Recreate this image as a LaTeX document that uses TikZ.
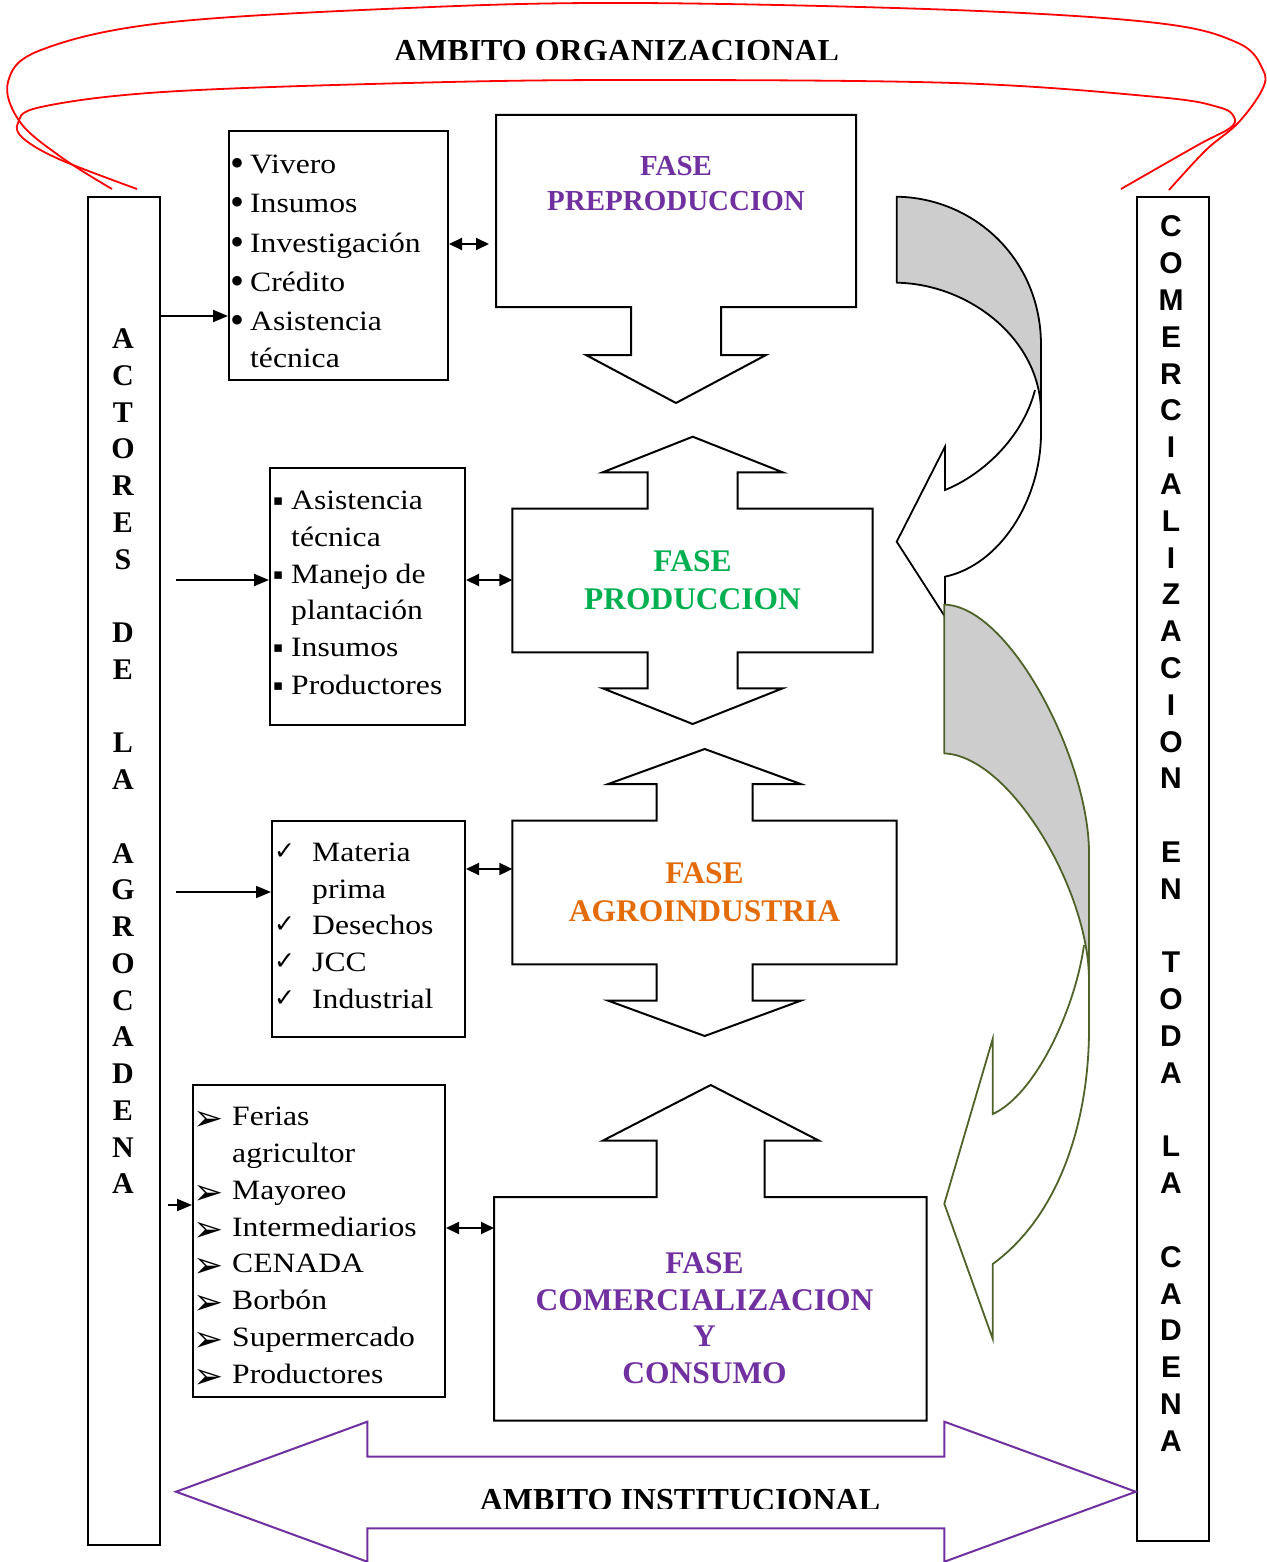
\documentclass[tikz,border=0pt]{standalone}
\usepackage{fontspec}
\setmainfont{Liberation Serif}
\newfontfamily\itemfont[FakeStretch=1.13]{Liberation Serif}
\newfontfamily\symfont{DejaVu Sans}
\newfontfamily\arialfont{Liberation Sans}
\usetikzlibrary{arrows.meta}
\definecolor{fpurple}{RGB}{112,48,160}
\definecolor{fgreen}{RGB}{0,176,80}
\definecolor{forange}{RGB}{227,108,9}
\definecolor{folive}{RGB}{79,98,40}
\definecolor{fshade}{RGB}{205,205,205}
\tikzset{
  boxnode/.style={draw, line width=2pt, inner sep=0pt},
  phase/.style={draw, line width=2pt, line join=miter},
  itm/.style={anchor=base west, inner sep=0pt, font=\itemfont\fontsize{28}{34}\selectfont},
  bul/.style={anchor=base west, inner sep=0pt, font=\fontsize{40}{40}\selectfont},
  sym/.style={anchor=base west, inner sep=0pt, font=\symfont\fontsize{#1}{#1}\selectfont},
  ttl/.style={anchor=base, inner sep=0pt, font=\bfseries\fontsize{31.5}{36}\selectfont},
  ttlsmall/.style={anchor=base, inner sep=0pt, font=\bfseries\fontsize{29}{34}\selectfont},
  amb/.style={anchor=base, inner sep=0pt, font=\bfseries\fontsize{32}{36}\selectfont},
  vl/.style={anchor=base, inner sep=0pt, font=\bfseries\fontsize{30}{36}\selectfont},
  vr/.style={anchor=base, inner sep=0pt, font=\arialfont\bfseries\fontsize{30}{36}\selectfont},
  sarr/.style={line width=2pt, -{Triangle[length=15pt,width=12pt]}},
  darr/.style={line width=2pt, {Triangle[length=13pt,width=12pt]}-{Triangle[length=13pt,width=12pt]}},
  redloop/.style={draw=red, line width=1.8pt},
  grayback/.style={fill=fshade, line width=1.8pt, line join=round},
  front/.style={line width=1.8pt, line join=miter},
}
\begin{document}
\begin{tikzpicture}[x=1pt,y=-1pt]
\useasboundingbox (0,0) rectangle (1266,1562);

% ---------- red loops (ambito organizacional)
\draw[redloop] plot[smooth, tension=0.6] coordinates {(112,189) (61,157) (20,122) (8,82) (41,50) (163,23) (408,8) (633,3) (954,10) (1157,23) (1238,43) (1263,70) (1262,90) (1238,123) (1206,150) (1169,190)};
\draw[redloop] plot[smooth, tension=0.6] coordinates {(137,189) (61,160) (24,139) (18,123) (41,107) (163,92) (408,83) (630,80) (954,83) (1157,97) (1218,107) (1234,117) (1230,128) (1198,145) (1121,189)};
\begin{scope}
  \clip (300,20) rectangle (950,59.5);
  \node[amb] (ambOrg) at (616.5,61.5) {AMBITO ORGANIZACIONAL};
\end{scope}

% ---------- side frames
\node[boxnode, minimum width=72, minimum height=1348] (leftframe) at (124,871) {};
\node[boxnode, minimum width=72, minimum height=1344] (rightframe) at (1173,869) {};
\foreach \c/\k in {A/0,C/1,T/2,O/3,R/4,E/5,S/6,D/8,E/9,L/11,A/12,A/14,G/15,R/16,O/17,C/18,A/19,D/20,E/21,N/22,A/23}
  \node[vl] (al\k) at (123,{348.5+36.75*\k}) {\c};
\foreach \c/\k in {C/0,O/1,M/2,E/3,R/4,C/5,I/6,A/7,L/8,I/9,Z/10,A/11,C/12,I/13,O/14,N/15,E/17,N/18,T/20,O/21,D/22,A/23,L/25,A/26,C/28,A/29,D/30,E/31,N/32,A/33}
  \node[vr] (ar\k) at (1171,{236.8+36.8*\k}) {\c};

% ---------- phase shapes
\draw[phase] (496,115) -- (856,115) -- (856,307) -- (721,307) -- (721,355) -- (766,355) -- (676,403) -- (586,355) -- (631,355) -- (631,307) -- (496,307) -- cycle;
\draw[phase] (692.7,436.7) -- (782.7,472.3) -- (737.7,472.3) -- (737.7,508.7) -- (872.7,508.7) -- (872.7,652.3) -- (737.7,652.3) -- (737.7,688.3) -- (782.7,688.3) -- (692.7,724) -- (602.7,688.3) -- (647.7,688.3) -- (647.7,652.3) -- (512.3,652.3) -- (512.3,508.7) -- (647.7,508.7) -- (647.7,472.3) -- (602.7,472.3) -- cycle;
\draw[phase] (704.7,749) -- (800.7,784) -- (752.7,784) -- (752.7,820.7) -- (896.7,820.7) -- (896.7,964.3) -- (752.7,964.3) -- (752.7,1000.7) -- (800.7,1000.7) -- (704.7,1036) -- (608.3,1000.7) -- (656.7,1000.7) -- (656.7,964.3) -- (512.3,964.3) -- (512.3,820.7) -- (656.7,820.7) -- (656.7,784) -- (608.3,784) -- cycle;
\draw[phase] (710.7,1085) -- (819,1140.7) -- (764.7,1140.7) -- (764.7,1197) -- (926.7,1197) -- (926.7,1420.7) -- (494,1420.7) -- (494,1197) -- (656.7,1197) -- (656.7,1140.7) -- (602.7,1140.7) -- cycle;

\node[ttlsmall, text=fpurple] (p1a) at (676,176) {FASE};
\node[ttlsmall, text=fpurple] (p1b) at (676,211) {PREPRODUCCION};
\node[ttl, text=fgreen] (p2a) at (692.5,571) {FASE};
\node[ttl, text=fgreen] (p2b) at (692.5,609) {PRODUCCION};
\node[ttl, text=forange] (p3a) at (704.5,883) {FASE};
\node[ttl, text=forange] (p3b) at (704.5,921) {AGROINDUSTRIA};
\node[ttl, text=fpurple] (p4a) at (704.5,1273) {FASE};
\node[ttl, text=fpurple] (p4b) at (704.5,1310) {COMERCIALIZACION};
\node[ttl, text=fpurple] (p4c) at (704.5,1346) {Y};
\node[ttl, text=fpurple] (p4d) at (704.5,1383) {CONSUMO};

% ---------- list boxes
\node[boxnode, minimum width=219, minimum height=249] (box1) at (338.5,255.5) {};
\foreach \y/\t/\b [count=\i] in {174/Vivero/1, 213/Insumos/1, 252/Investigación/1, 291/Crédito/1, 330/Asistencia/1, 367/técnica/0} {
  \node[itm] (b1t\i) at (250,\y) {\t};
  \ifnum\b=1 \node[bul] (b1b\i) at (230,\y+3) {•};\fi
}
\node[boxnode, minimum width=195, minimum height=257] (box2) at (367.5,596.5) {};
\foreach \y/\t/\b [count=\i] in {509/Asistencia/1, 546/técnica/0, 583/Manejo de/1, 619/plantación/0, 656/Insumos/1, 694/Productores/1} {
  \node[itm] (b2t\i) at (291,\y) {\t};
  \ifnum\b=1 \node[sym=15] (b2b\i) at (273,\y-4) {▪};\fi
}
\node[boxnode, minimum width=193, minimum height=216] (box3) at (368.5,929) {};
\foreach \y/\t/\b [count=\i] in {861/Materia/1, 898/prima/0, 934/Desechos/1, 971/JCC/1, 1008/Industrial/1} {
  \node[itm] (b3t\i) at (312,\y) {\t};
  \ifnum\b=1 \node[sym=25] (b3b\i) at (274,\y-2) {✓};\fi
}
\node[boxnode, minimum width=252, minimum height=312] (box4) at (319,1241) {};
\foreach \y/\t/\b [count=\i] in {1125/Ferias/1, 1162/agricultor/0, 1199/Mayoreo/1, 1236/Intermediarios/1, 1272/CENADA/1, 1309/Borbón/1, 1346/Supermercado/1, 1383/Productores/1} {
  \node[itm] (b4t\i) at (232,\y) {\t};
  \ifnum\b=1 \node[sym=36] (b4b\i) at (193,\y+5) {➢};\fi
}

% ---------- connectors
\coordinate (lf1) at (160,316);
\coordinate (s2) at (176,580);
\coordinate (s3) at (176,892);
\coordinate (s4) at (168,1205);
\draw[sarr] (lf1) -- (box1.west |- lf1);
\draw[sarr] (s2) -- (box2.west |- s2);
\draw[sarr] (s3) -- (box3.west |- s3);
\draw[sarr] (s4) -- (box4.west |- s4);
\coordinate (ph1) at (489,244);
\coordinate (ph2) at (512.3,580);
\coordinate (ph3) at (512.3,869);
\coordinate (ph4) at (494,1228);
\draw[darr] (box1.east |- ph1) -- (ph1);
\draw[darr] (box2.east |- ph2) -- (ph2);
\draw[darr] (box3.east |- ph3) -- (ph3);
\draw[darr] (box4.east |- ph4) -- (ph4);

% ---------- curved arrow 1 (black)
\draw[grayback] (896.7,196.7) .. controls (975,198) and (1041,260) .. (1041,345) -- (1041,413) .. controls (1041,340) and (970,284) .. (896.7,282.7) -- cycle;
\draw[front] (1041,345) -- (1041,433) .. controls (1041,500) and (1000,565) .. (945,576.7) -- (945,616.7) -- (896.7,541.7) -- (945,446.7) -- (945,490) .. controls (980,476) and (1022,440) .. (1035,390);

% ---------- curved arrow 2 (olive)
\draw[grayback, draw=folive] (944.3,604.6) .. controls (1010,606) and (1089,760) .. (1089,853) -- (1089,980) .. controls (1089,890) and (1010,756) .. (944.3,753.4) -- cycle;
\draw[front, draw=folive] (1089,853) -- (1089,1029) .. controls (1089,1120) and (1060,1215) .. (992.7,1264) -- (992.7,1338.8) -- (944.3,1203.7) -- (992.7,1038.8) -- (992.7,1114) .. controls (1035,1095) and (1075,1010) .. (1084,945);

% ---------- ambito institucional
\draw[draw=fpurple, line width=2pt, line join=miter] (176,1491.7) -- (367.3,1421.7) -- (367.3,1456.7) -- (944.4,1456.7) -- (944.4,1421.7) -- (1135.8,1491.7) -- (944.4,1561.7) -- (944.4,1528.3) -- (367.3,1528.3) -- (367.3,1561.7) -- cycle;
\begin{scope}
  \clip (400,1470) rectangle (960,1508.5);
  \node[amb] (ambInst) at (680,1510.5) {AMBITO INSTITUCIONAL};
\end{scope}
\end{tikzpicture}
\end{document}
